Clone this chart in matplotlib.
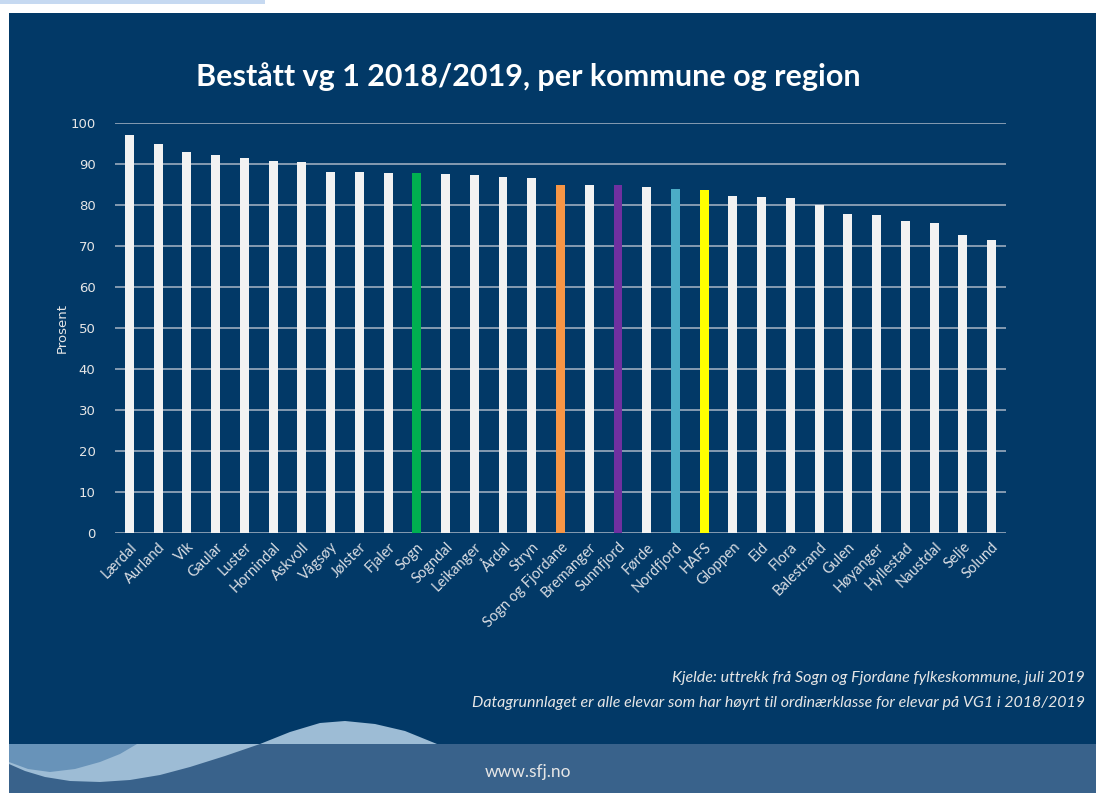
import matplotlib
matplotlib.use("Agg")
import matplotlib.pyplot as plt
from matplotlib.patches import Rectangle, Polygon

# data
kommuner = ["Lærdal", "Aurland", "Vik", "Gaular", "Luster", "Hornindal", "Askvoll",
            "Vågsøy", "Jølster", "Fjaler", "Sogn", "Sogndal", "Leikanger", "Årdal",
            "Stryn", "Sogn og Fjordane", "Bremanger", "Sunnfjord", "Førde", "Nordfjord",
            "HAFS", "Gloppen", "Eid", "Flora", "Balestrand", "Gulen", "Høyanger",
            "Hyllestad", "Naustdal", "Selje", "Solund"]
prosent = [97.1, 94.9, 93.0, 92.2, 91.5, 90.8, 90.6,
           88.0, 88.0, 87.7, 87.7, 87.6, 87.4, 86.9,
           86.7, 84.8, 84.8, 84.8, 84.3, 84.0,
           83.7, 82.2, 82.0, 81.6, 79.9, 77.7, 77.5,
           76.1, 75.6, 72.6, 71.4]
regioner = {"Sogn": "#00b050", "Sogn og Fjordane": "#f79646", "Sunnfjord": "#7030a0",
            "Nordfjord": "#4bacc6", "HAFS": "#ffff00"}

panel = "#023967"
band = "#39628b"

fig = plt.figure(figsize=(10.96, 7.93), dpi=100)
fig.patch.set_facecolor("white")

# background slide in pixel coords
bg = fig.add_axes([0, 0, 1, 1])
bg.set_xlim(0, 1096)
bg.set_ylim(793, 0)
bg.axis("off")
bg.add_patch(Rectangle((0, 0), 265, 3.5, color="#c6d9f1", lw=0))
bg.add_patch(Rectangle((9, 13), 1087, 780, color=panel, lw=0))
bg.add_patch(Rectangle((9, 744), 1087, 49, color=band, lw=0))
light = [(9, 764), (25, 771), (45, 777), (70, 781), (100, 782), (130, 780), (160, 775),
         (190, 767), (225, 756), (260, 744), (290, 732), (320, 723), (345, 721),
         (375, 724), (405, 731), (437, 744), (9, 744)]
bg.add_patch(Polygon(light, closed=True, color="#9dbcd5", lw=0))
medium = [(9, 744), (137, 744), (120, 754), (100, 762), (75, 769), (50, 772),
          (28, 769), (9, 762)]
bg.add_patch(Polygon(medium, closed=True, color="#6893b9", lw=0))

bg.text(528, 77, "Bestått vg 1 2018/2019, per kommune og region", color="white",
        fontsize=22, fontweight="bold", family="Lato", ha="center", va="center")
bg.text(1085, 678, "Kjelde: uttrekk frå Sogn og Fjordane fylkeskommune, juli 2019",
        color="#e6e6e6", fontsize=11.5, style="italic", family="Lato", ha="right", va="center")
bg.text(1085, 703, "Datagrunnlaget er alle elevar som har høyrt til ordinærklasse for elevar på VG1 i 2018/2019",
        color="#e6e6e6", fontsize=11.5, style="italic", family="Lato", ha="right", va="center")
bg.text(528, 772, "www.sfj.no", color="#e6e6e6", fontsize=12.5, family="Lato",
        ha="center", va="center")

# the chart
ax = fig.add_axes([115 / 1096, 1 - 533 / 793, 891 / 1096, 410 / 793])
ax.set_facecolor("none")
bar_colors = [regioner.get(k, "#f2f2f2") for k in kommuner]
ax.bar(kommuner, prosent, width=0.31, color=bar_colors, zorder=3)

ax.set_xlim(-0.5, len(kommuner) - 0.5)
ax.set_ylim(0, 100)
ax.set_yticks(range(0, 101, 10))
ax.yaxis.grid(True, color="#a9b6c6", linewidth=1.1, zorder=0)
for s in ["top", "right", "left", "bottom"]:
    ax.spines[s].set_visible(False)
ax.tick_params(axis="y", length=0, pad=14, labelsize=9.5, labelcolor="#e6e6e6")
ax.tick_params(axis="x", length=0, pad=5)
ax.set_xticks(range(len(kommuner)))
ax.set_xticklabels(kommuner, rotation=45, ha="right", rotation_mode="anchor",
                   fontsize=10.5, family="Lato", color="#d9dde3")
ax.set_ylabel("Prosent", fontsize=9.5, color="#e6e6e6", labelpad=1)

plt.savefig("out.png", dpi=100)
